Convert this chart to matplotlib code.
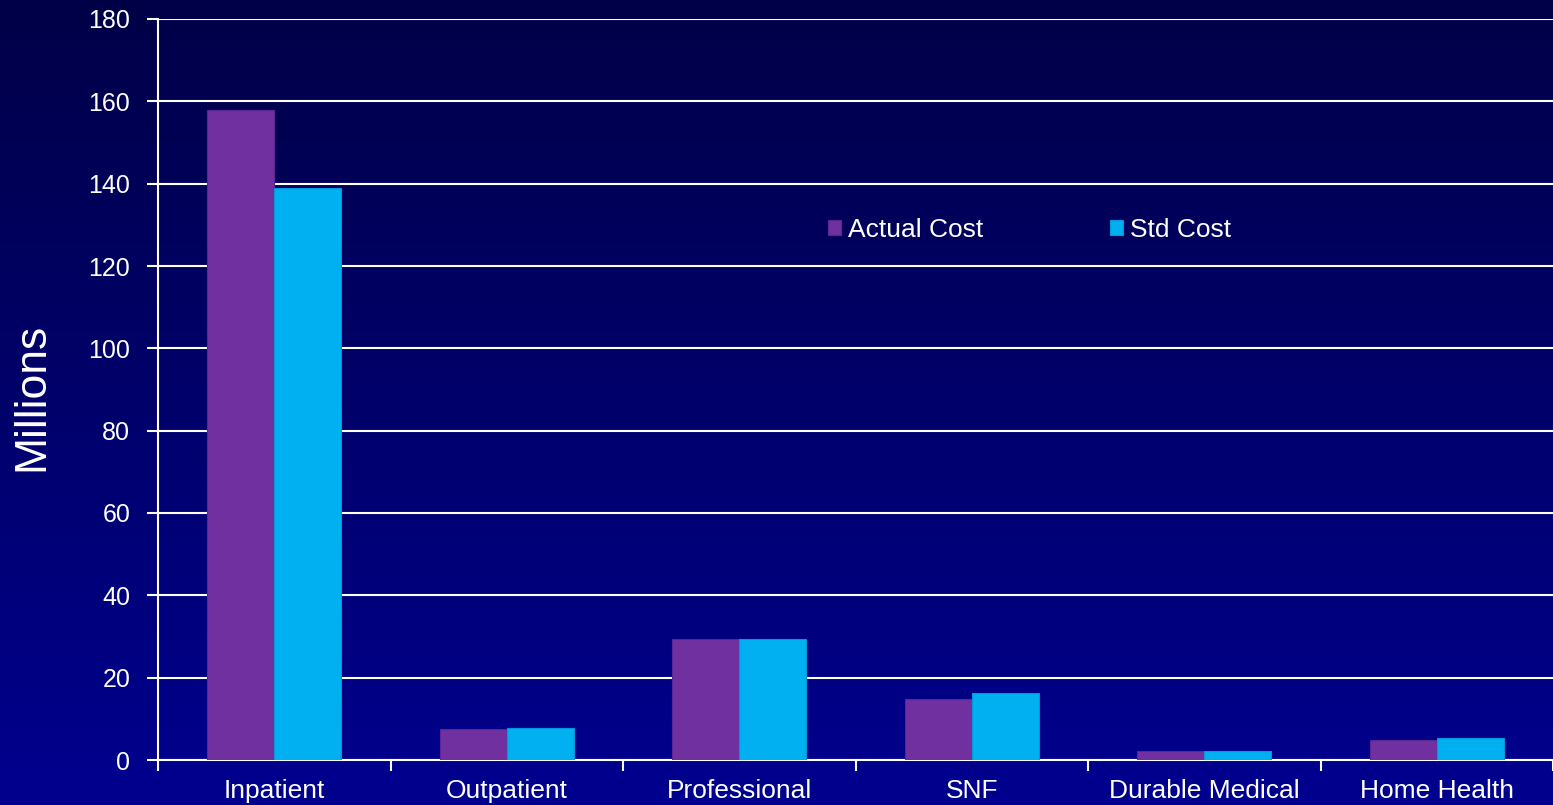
import numpy as np
import matplotlib
matplotlib.use('Agg')
import matplotlib.pyplot as plt

# data (millions)
categorias = ['Inpatient', 'Outpatient', 'Professional', 'SNF', 'Durable Medical', 'Home Health']
actual_cost = [158, 7.5, 29.3, 14.8, 2.1, 4.8]
std_cost = [139, 7.8, 29.5, 16.3, 2.1, 5.4]
y_ticks = [0, 20, 40, 60, 80, 100, 120, 140, 160, 180]

cor_actual = '#7030A0'
cor_std = '#00B0F0'

plt.rcParams['font.family'] = ['Liberation Sans', 'DejaVu Sans']

fig = plt.figure(figsize=(15.53, 8.05), dpi=100)

# fundo em degrade azul escuro
bg = fig.add_axes([0, 0, 1, 1], zorder=-1)
grad = np.linspace(0, 1, 256).reshape(-1, 1)
topo = np.array([0, 0, 0.28])
base = np.array([0, 0, 0.56])
img = topo + (base - topo) * grad[:, :, None]
bg.imshow(img, aspect='auto', extent=[0, 1, 0, 1])
bg.axis('off')

ax = fig.add_axes([158 / 1553, 45 / 805, 1 - 158 / 1553, 741 / 805])
ax.set_facecolor('none')

x = np.arange(len(categorias))
largura = 0.288
ax.bar(x - largura / 2, actual_cost, largura, color=cor_actual, edgecolor='#5a2590', linewidth=0.8, label='Actual Cost', zorder=3)
ax.bar(x + largura / 2, std_cost, largura, color=cor_std, edgecolor='#0098d8', linewidth=0.8, label='Std Cost', zorder=3)

ax.set_xlim(-0.5, len(categorias) - 0.5)
ax.set_ylim(0, 180)
ax.set_yticks(y_ticks)
ax.yaxis.grid(True, color='white', linewidth=1.5)
ax.set_axisbelow(True)

ax.set_xticks(x)
ax.set_xticklabels(categorias)
ax.set_xticks(np.arange(-0.5, len(categorias)), minor=True)
ax.tick_params(axis='x', which='major', length=0, pad=14, labelsize=19, colors='white')
ax.tick_params(axis='x', which='minor', length=8, width=1.5, color='white', direction='out')
ax.tick_params(axis='y', length=8, width=1.5, color='white', pad=12, labelsize=18, labelcolor='white')

for lado in ['top', 'right']:
    ax.spines[lado].set_visible(False)
for lado in ['left', 'bottom']:
    ax.spines[lado].set_color('white')
    ax.spines[lado].set_linewidth(1.5)

ax.set_ylabel('Millions', fontsize=32, color='white')
ax.yaxis.set_label_coords(-(158 - 52) / 1395, 0.49)

leg = ax.legend(loc='center left', bbox_to_anchor=((828 - 158) / 1395, (760 - 230) / 741),
                ncol=2, frameon=False, fontsize=19, handlelength=0.5, handleheight=0.5,
                handletextpad=0.25, columnspacing=4.8, borderpad=0, borderaxespad=0)
for t in leg.get_texts():
    t.set_color('white')

fig.savefig('out.png', dpi=100)
